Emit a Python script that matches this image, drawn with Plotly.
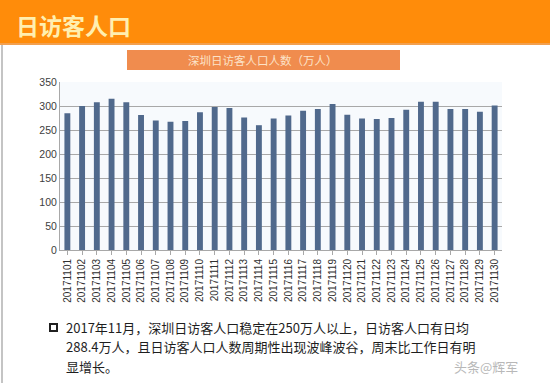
import plotly.graph_objects as go

dates = [f"201711{d:02d}" for d in range(1, 31)]
visitors = [285, 300, 308, 315, 308, 281, 270, 267, 269, 287,
            298, 296, 276, 260, 274, 280, 290, 294, 304, 282,
            274, 273, 275, 292, 309, 309, 294, 294, 288, 301]
y_ticks = [0, 50, 100, 150, 200, 250, 300, 350]

header_title = "日访客人口"
chart_title = "深圳日访客人口人数（万人）"
note_lines = ["2017年11月，深圳日访客人口稳定在250万人以上，日访客人口有日均",
              "288.4万人，且日访客人口人数周期性出现波峰波谷，周末比工作日有明",
              "显增长。"]
watermark = "头条@辉军"

W, H = 550, 383
L, R, T, B = 60, 48, 82, 133
pw, ph = W - L - R, H - T - B

def px(x):
    return (x - L) / pw

def py(y):
    return (H - B - y) / ph

CJK = "Noto Sans CJK SC, sans-serif"

fig = go.Figure(go.Bar(x=dates, y=visitors, marker=dict(color="#50698C", line=dict(width=0)),
                       width=0.4))

fig.update_layout(
    width=W, height=H,
    margin=dict(l=L, r=R, t=T, b=B),
    paper_bgcolor="#FFFFFF",
    plot_bgcolor="#F7FAFD",
    showlegend=False,
    font=dict(family="Liberation Sans, Arial, sans-serif", color="#404040"),
)
fig.update_yaxes(range=[0, 350], tickvals=y_ticks, showgrid=True, gridcolor="#A8A8A8",
                 gridwidth=1, zeroline=False, showline=True, linecolor="#A8A8A8",
                 tickfont=dict(size=10.5, color="#404040"), ticks="", ticklen=0)
fig.update_xaxes(tickangle=-90, tickfont=dict(size=10, color="#303030"), showline=True,
                 linecolor="#A8A8A8", ticks="outside", ticklen=4, tickcolor="#A8A8A8",
                 showgrid=False, automargin=False)

shapes = [
    dict(type="rect", xref="paper", yref="paper", x0=px(0), x1=px(W), y0=py(43), y1=py(0),
         fillcolor="#FF8C0A", line=dict(width=0), layer="below"),
    dict(type="rect", xref="paper", yref="paper", x0=px(0), x1=px(W), y0=py(45), y1=py(43),
         fillcolor="#F2A050", line=dict(width=0), layer="below"),
    dict(type="rect", xref="paper", yref="paper", x0=px(127), x1=px(400), y0=py(70), y1=py(50),
         fillcolor="#F08C4E", line=dict(width=0)),
    dict(type="line", xref="paper", yref="paper", x0=px(2), x1=px(2), y0=py(H), y1=py(45),
         line=dict(color="#B0B0B0", width=1.5)),
    dict(type="rect", xref="paper", yref="paper", x0=px(50), x1=px(57), y0=py(331), y1=py(324),
         fillcolor="#FFFFFF", line=dict(color="#202020", width=2)),
]

annotations = [
    dict(text=f"<b>{header_title}</b>", xref="paper", yref="paper", x=px(14), y=py(25),
         xanchor="left", yanchor="middle", showarrow=False,
         font=dict(family=CJK, size=23, color="#FFEFB0")),
    dict(text=chart_title, xref="paper", yref="paper", x=px(263), y=py(60),
         xanchor="center", yanchor="middle", showarrow=False,
         font=dict(family=CJK, size=11.5, color="#FCE3C8")),
    dict(text=watermark, xref="paper", yref="paper", x=px(520), y=py(366),
         xanchor="right", yanchor="middle", showarrow=False,
         font=dict(family=CJK, size=13, color="#B8B8B8")),
]
for i, line in enumerate(note_lines):
    annotations.append(dict(text=line, xref="paper", yref="paper", x=px(64), y=py(327 + 19.5 * i),
                            xanchor="left", yanchor="middle", showarrow=False,
                            font=dict(family=CJK, size=13, color="#1E1E1E")))

fig.update_layout(shapes=shapes, annotations=annotations)
fig.write_html("out.html", config={"displayModeBar": False},
               post_script="document.body.style.margin='0';document.body.style.overflow='hidden';")
